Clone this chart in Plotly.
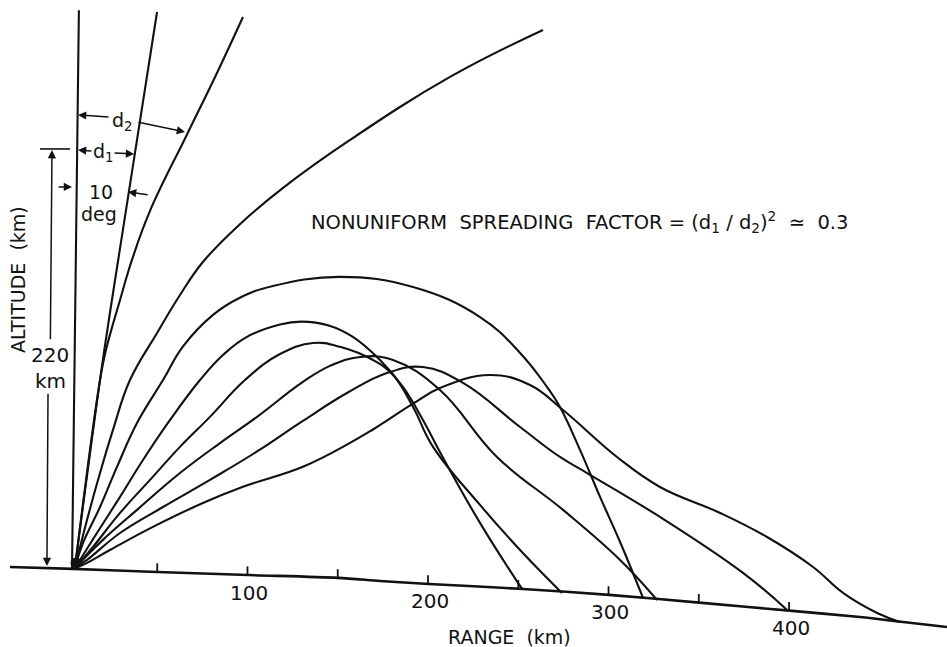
import numpy as np
import plotly.graph_objects as go

# ---------------- data (range km, altitude km) ----------------
ground_x = [-31.6, 3.3, 49.9, 100.3, 150.1, 173.4, 200.6, 252.6, 300.3, 351.8, 401.7, 439.3, 463.2, 487.5]
ground_y = [0.5, -0.5, -2.1, -3.7, -5.2, -6.8, -8.4, -11.0, -14.1, -18.3, -22.5, -25.7, -28.3, -30.9]

tick_values = [50, 100, 150, 200, 250, 300, 350, 400]
tick_labels = ["100", "200", "300", "400"]
label_values = [100, 200, 300, 400]

ray1_x = [2.8, 6.6]
ray1_y = [0.0, 292.0]

ray2_x = [4.4, 18.3, 24.9, 49.9]
ray2_y = [0.0, 98.4, 140.3, 291.1]

ray3_x = [4.4, 18.3, 21.6, 29.4, 36.0, 46.0, 66.5, 82.5, 97.5]
ray3_y = [0.0, 98.4, 114.1, 140.3, 161.3, 187.0, 227.0, 258.0, 288.5]

ray4_x = [4.4, 11.1, 18.3, 25.5, 34.9, 49.9, 62.6, 75.3, 95.8, 119.7, 156.8, 212.2, 263.7]
ray4_y = [0.0, 25.1, 49.7, 72.3, 98.4, 123.0, 142.9, 160.2, 180.0, 199.0, 224.1, 257.1, 281.7]

ray5_x = [4.4, 8.9, 18.3, 27.7, 38.8, 53.2, 64.3, 80.9, 95.8, 114.1, 151.2, 191.7, 228.8, 251.0,
          265.9, 273.1, 284.2, 295.3, 306.4, 319.1]
ray5_y = [0.0, 13.1, 31.9, 52.9, 75.9, 98.4, 116.0, 132.5, 141.5, 147.6, 152.4, 147.1, 131.4, 112.6,
          94.8, 84.3, 61.8, 37.2, 13.6, -15.7]

ray6_x = [4.4, 16.6, 29.4, 42.1, 57.1, 73.7, 86.4, 99.7, 118.0, 130.0, 145.0, 158.4, 173.4, 186.1, 197.2,
          206.6, 228.8, 252.1]
ray6_y = [0.0, 18.3, 37.2, 56.5, 77.5, 98.4, 111.5, 121.0, 127.5, 129.0, 127.0, 121.0, 108.9, 94.8, 77.5,
          60.7, 23.6, -11.0]

ray7_x = [4.4, 14.4, 29.4, 46.0, 62.6, 79.2, 98.6, 118.0, 136.3, 151.2, 169.5, 180.6, 191.7, 202.8,
          228.8, 251.0, 274.2]
ray7_y = [0.0, 11.0, 28.8, 46.1, 63.4, 79.1, 98.4, 112.0, 117.8, 115.8, 108.9, 101.0, 84.3, 63.4,
          33.0, 9.4, -13.1]

ray8_x = [4.4, 19.9, 38.8, 62.6, 84.8, 105.3, 130.7, 145.7, 162.3, 180.6, 206.6, 238.2, 274.8, 306.4, 326.9]
ray8_y = [0.0, 14.7, 30.4, 49.7, 65.4, 79.1, 97.4, 105.8, 110.5, 108.9, 93.2, 58.1, 30.4, 4.2, -16.8]

ray9_x = [4.4, 11.1, 29.4, 53.2, 79.2, 105.3, 130.7, 155.1, 177.3, 197.2, 219.4, 251.0, 273.1, 288.1,
          328.5, 374.5, 398.9]
ray9_y = [0.0, 4.2, 18.3, 31.9, 46.1, 61.0, 77.0, 91.6, 102.1, 105.2, 96.9, 73.8, 58.1, 49.7,
          26.7, -2.6, -22.0]

ray10_x = [4.4, 8.9, 23.8, 47.6, 75.3, 97.5, 130.7, 156.8, 169.5, 191.7, 206.6, 234.3, 256.5, 274.8,
           304.7, 328.5, 361.8, 387.8, 413.3, 429.9, 448.8, 461.5]
ray10_y = [0.0, 1.6, 9.4, 21.5, 34.0, 42.5, 53.0, 65.5, 72.5, 86.0, 94.2, 101.0, 95.8, 82.7,
           58.1, 42.4, 28.8, 16.2, 0.5, -13.1, -23.6, -28.3]

rays = [(ray1_x, ray1_y), (ray2_x, ray2_y), (ray3_x, ray3_y), (ray4_x, ray4_y), (ray5_x, ray5_y),
        (ray6_x, ray6_y), (ray7_x, ray7_y), (ray8_x, ray8_y), (ray9_x, ray9_y), (ray10_x, ray10_y)]

FONT = "DejaVu Sans"
INK = "#111111"

fig = go.Figure()

for rx, ry in rays:
    fig.add_trace(go.Scatter(x=rx, y=ry, mode="lines",
                             line=dict(color=INK, width=2.1, shape="spline", smoothing=1.2),
                             hoverinfo="skip", showlegend=False))

# ground
fig.add_trace(go.Scatter(x=ground_x, y=ground_y, mode="lines",
                         line=dict(color=INK, width=2.6, shape="spline", smoothing=0.8),
                         hoverinfo="skip", showlegend=False))

# ticks on the curved ground
tx, ty = [], []
for t in tick_values:
    g = float(np.interp(t, ground_x, ground_y))
    tx += [t, t, None]
    ty += [g, g + 4.5, None]
fig.add_trace(go.Scatter(x=tx, y=ty, mode="lines", line=dict(color=INK, width=1.8),
                         hoverinfo="skip", showlegend=False))

# transmitter blob
fig.add_trace(go.Scatter(x=[5.0], y=[2.6], mode="markers", marker=dict(color=INK, size=11, symbol="circle"),
                         hoverinfo="skip", showlegend=False))

# bar at top of the 220 km marker
fig.add_trace(go.Scatter(x=[-14.9, 1.7], y=[219.4, 219.4], mode="lines", line=dict(color=INK, width=1.6),
                         hoverinfo="skip", showlegend=False))

annotations = []
for v, lab in zip(label_values, tick_labels):
    g = float(np.interp(v, ground_x, ground_y))
    annotations.append(dict(x=v + 1.0, y=g - 9.2, text=lab, showarrow=False, xref="x", yref="y",
                            font=dict(family=FONT, size=20, color=INK)))

annotations.append(dict(x=245.4, y=-36.1, text="RANGE  (km)", showarrow=False, xref="x", yref="y",
                        font=dict(family=FONT, size=19, color=INK)))
annotations.append(dict(x=-27.1, y=150.8, text="ALTITUDE  (km)", textangle=-90, showarrow=False,
                        xref="x", yref="y", font=dict(family=FONT, size=19, color=INK)))
annotations.append(dict(x=284.0, y=181.0,
                        text="NONUNIFORM  SPREADING  FACTOR = (d<sub>1</sub> / d<sub>2</sub>)<sup>2</sup>  \u2243  0.3",
                        showarrow=False, xref="x", yref="y", font=dict(family=FONT, size=19.5, color=INK)))

# 220 km marker
annotations.append(dict(x=-9.4, y=111.5, text="220", showarrow=False, xref="x", yref="y",
                        font=dict(family=FONT, size=20, color=INK)))
annotations.append(dict(x=-9.4, y=98.0, text="km", showarrow=False, xref="x", yref="y",
                        font=dict(family=FONT, size=20, color=INK)))
# d labels
annotations.append(dict(x=30.5, y=234.0, text="d<sub>2</sub>", showarrow=False, xref="x", yref="y",
                        font=dict(family=FONT, size=19, color=INK)))
annotations.append(dict(x=20.2, y=217.5, text="d<sub>1</sub>", showarrow=False, xref="x", yref="y",
                        font=dict(family=FONT, size=19, color=INK)))
annotations.append(dict(x=18.6, y=197.0, text="10", showarrow=False, xref="x", yref="y",
                        font=dict(family=FONT, size=19, color=INK)))
annotations.append(dict(x=17.8, y=185.6, text="deg", showarrow=False, xref="x", yref="y",
                        font=dict(family=FONT, size=19, color=INK)))


def arrow(hx, hy, tx_, ty_):
    return dict(x=hx, y=hy, ax=tx_, ay=ty_, xref="x", yref="y", axref="x", ayref="y", text="",
                showarrow=True, arrowhead=2, arrowsize=1.1, arrowwidth=1.5, arrowcolor=INK)


annotations += [
    arrow(6.1, 237.2, 23.8, 236.1),     # d2 left
    arrow(65.4, 228.3, 38.8, 233.5),    # d2 right
    arrow(6.1, 218.8, 14.4, 218.3),     # d1 left
    arrow(37.2, 216.8, 25.5, 217.3),    # d1 right
    arrow(2.8, 199.5, -5.5, 199.5),     # 10 deg left
    arrow(33.8, 196.9, 45.5, 195.3),    # 10 deg right
    arrow(-8.3, 218.8, -9.2, 119.0),    # 220 up
    arrow(-11.1, 1.0, -10.5, 92.0),     # 220 down
]

fig.update_layout(
    width=947, height=647, margin=dict(l=0, r=0, t=0, b=0),
    paper_bgcolor="white", plot_bgcolor="white",
    xaxis=dict(range=[-37.1, 487.5], visible=False, showgrid=False, zeroline=False),
    yaxis=dict(range=[-41.4, 297.4], visible=False, showgrid=False, zeroline=False),
    annotations=annotations, showlegend=False,
)

fig.write_html("out.html")
